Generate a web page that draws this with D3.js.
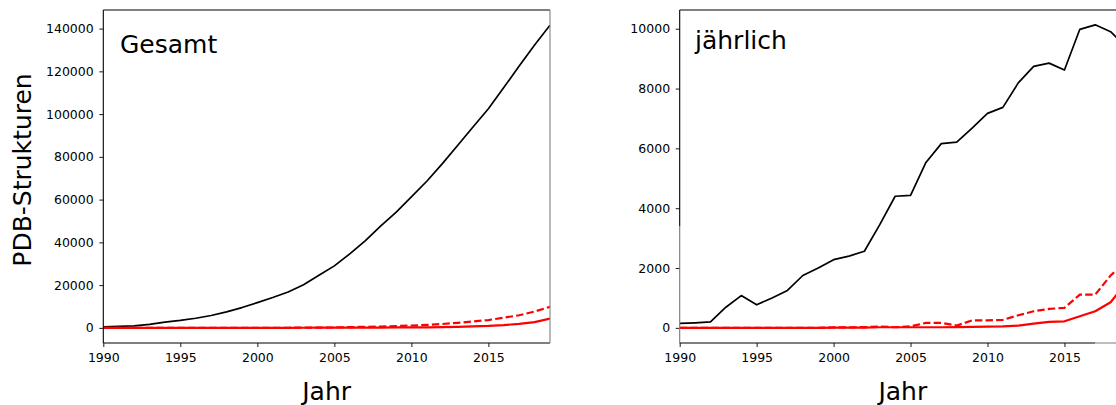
<!DOCTYPE html>
<html><head><meta charset="utf-8">
<script src="https://cdn.jsdelivr.net/npm/d3@7"></script>
<style>
html,body{margin:0;padding:0;background:#fff;overflow:hidden}
svg{display:block}
text{font-family:"DejaVu Sans",sans-serif;fill:#000}
</style></head>
<body>
<svg id="chart" width="1116" height="405"></svg>
<script>
// ---- data ----
const years = [1990,1991,1992,1993,1994,1995,1996,1997,1998,1999,2000,2001,2002,2003,2004,2005,2006,2007,2008,2009,2010,2011,2012,2013,2014,2015,2016,2017,2018,2019];
// cumulative (Gesamt)
const totalCum  = [500,700,900,1600,2700,3500,4500,5800,7500,9500,11800,14200,16800,20200,24600,29000,34600,40700,47600,54000,61300,68600,76700,85300,94000,102500,112400,122500,132300,141600];
const dashedCum = [0,0,0,0,0,0,0,0,0,0,20,35,60,105,125,175,340,510,590,840,1080,1360,1800,2360,3000,3660,4780,5890,7640,9820];
const solidCum  = [0,0,0,0,0,0,0,0,0,0,10,20,30,50,70,90,110,130,155,185,225,275,350,490,690,910,1300,1855,2710,4350];
// yearly (jährlich)
const totalYear  = [150,170,200,690,1080,770,1000,1250,1750,2000,2280,2400,2560,3450,4400,4430,5530,6160,6210,6680,7170,7370,8190,8740,8850,8620,9980,10130,9900,9400];
const dashedYear = [0,0,0,0,0,0,0,0,0,0,15,15,25,45,20,50,167,167,77,250,250,270,420,555,635,668,1113,1113,1750,2200];
const solidYear  = [0,0,0,0,0,0,0,0,0,0,10,10,10,20,20,20,20,20,25,30,40,50,75,140,200,220,390,555,855,1500];
const xTicks = [1990,1995,2000,2005,2010,2015];
const yTicksLeft = [0,20000,40000,60000,80000,100000,120000,140000];
const yTicksRight = [0,2000,4000,6000,8000,10000];
const panelTitles = ["Gesamt","jährlich"];
const yLabel = "PDB-Strukturen";
const xLabel = "Jahr";

const svg = d3.select("#chart");

function panel(cfg){
  const g = svg.append("g");
  const x = d3.scaleLinear().domain([1990,2019]).range([cfg.x0,cfg.x1]);
  const y = d3.scaleLinear().domain(cfg.ydom).range([343,10]);
  const clipId = "clip"+cfg.id;
  svg.append("clipPath").attr("id",clipId).append("rect")
    .attr("x",cfg.x0).attr("y",10).attr("width",cfg.x1-cfg.x0).attr("height",333);
  const lines = g.append("g").attr("clip-path",`url(#${clipId})`);
  const line = d3.line().x((d,i)=>x(years[i])).y(d=>y(d));
  lines.append("path").datum(cfg.total).attr("d",line)
    .attr("fill","none").attr("stroke","#000").attr("stroke-width",1.7).attr("stroke-linejoin","round");
  lines.append("path").datum(cfg.solid).attr("d",line)
    .attr("fill","none").attr("stroke","#ff0000").attr("stroke-width",2.2).attr("stroke-linejoin","round");
  lines.append("path").datum(cfg.dashed).attr("d",line)
    .attr("fill","none").attr("stroke","#ff0000").attr("stroke-width",2.2).attr("stroke-dasharray","7.4,3.2");

  // axes
  const xa = g.append("g").attr("transform","translate(0,343)")
    .call(d3.axisBottom(x).tickValues(xTicks).tickFormat(d3.format("d")).tickSize(4).tickPadding(6.4));
  const ya = g.append("g").attr("transform",`translate(${cfg.x0},0)`)
    .call(d3.axisLeft(y).tickValues(cfg.yticks).tickFormat(d3.format("d")).tickSize(4).tickPadding(5.6));
  [xa,ya].forEach(a=>{
    a.select(".domain").remove();
    a.selectAll("text").style("font-family","DejaVu Sans").style("font-size","12.5px").attr("fill","#111");
    a.selectAll("line").attr("stroke","#000").attr("stroke-width",0.9);
  });
  // frame
  const fr = g.append("g").attr("fill","none").attr("stroke-width",1.1);
  fr.append("line").attr("x1",cfg.x0).attr("x2",cfg.x1).attr("y1",10).attr("y2",10).attr("stroke","#000");
  fr.append("line").attr("x1",cfg.x0).attr("x2",Math.min(cfg.x1,cfg.grayBottomFrom)).attr("y1",343).attr("y2",343).attr("stroke","#000");
  if (cfg.grayBottomFrom < cfg.x1)
    fr.append("line").attr("x1",cfg.grayBottomFrom).attr("x2",cfg.x1).attr("y1",343).attr("y2",343).attr("stroke","#888");
  fr.append("line").attr("x1",cfg.x0).attr("x2",cfg.x0).attr("y1",10).attr("y2",226).attr("stroke","#000");
  fr.append("line").attr("x1",cfg.x0).attr("x2",cfg.x0).attr("y1",226).attr("y2",343).attr("stroke",cfg.leftLowerColor);
  fr.append("line").attr("x1",cfg.x1).attr("x2",cfg.x1).attr("y1",10).attr("y2",343).attr("stroke",cfg.rightColor);

  g.append("text").attr("x",cfg.titleX).attr("y",cfg.titleY).style("font-size","25px").text(cfg.title);
  g.append("text").attr("x",(cfg.x0+cfg.x1)/2).attr("y",400).attr("text-anchor","middle")
    .style("font-size","25px").text(xLabel);
}

panel({id:"L",x0:103.3,x1:550,ydom:[-7080,148700],yticks:yTicksLeft,
  total:totalCum,dashed:dashedCum,solid:solidCum,title:panelTitles[0],titleX:120,titleY:53,
  leftLowerColor:"#000",rightColor:"#808080",grayBottomFrom:9999});
panel({id:"R",x0:679.7,x1:1126,ydom:[-506,10626],yticks:yTicksRight,
  total:totalYear,dashed:dashedYear,solid:solidYear,title:panelTitles[1],titleX:695,titleY:49,
  leftLowerColor:"#777",rightColor:"#000",grayBottomFrom:1095});

svg.append("text").attr("transform","translate(31,170) rotate(-90)").attr("text-anchor","middle")
  .style("font-size","25px").text(yLabel);
</script>
</body></html>
